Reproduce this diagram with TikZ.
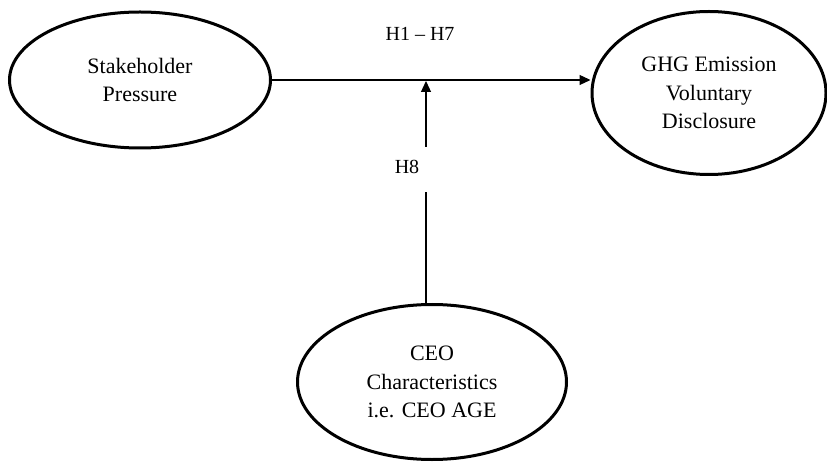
\documentclass[tikz,border=0pt]{standalone}
\usepackage{fontspec}
\setmainfont{Liberation Serif}
\usetikzlibrary{shapes.geometric,arrows.meta}
\tikzset{
  construct/.style={ellipse, draw=black, line width=3pt, inner sep=0pt, align=center,
    font=\fontsize{22}{28.5}\selectfont},
  link/.style={line width=1.2pt, -{Triangle[length=11pt,width=10pt]}},
  plain/.style={line width=1.2pt},
  hyp/.style={font=\fontsize{20}{24}\selectfont, inner sep=0pt}
}
\begin{document}
\begin{tikzpicture}[x=1pt,y=-1pt]
\useasboundingbox (0,0) rectangle (827,462);
\node[construct, minimum width=261pt, minimum height=136pt] (sp) at (140,80) {Stakeholder\\Pressure};
\node[construct, minimum width=234pt, minimum height=163pt] (ghg) at (709,93) {GHG Emission\\Voluntary\\Disclosure};
\node[construct, minimum width=269pt, minimum height=155pt] (ceo) at (432,382) {CEO\\Characteristics\\i.e. CEO AGE};
\node[hyp] (h17) at (420,34) {H1 -- H7};
\node[hyp] (h8) at (407,167) {H8};
\draw[link] (sp.east) -- (sp.east -| ghg.west);
\coordinate (m) at (426,81);
\coordinate (g1) at (426,147);
\coordinate (g2) at (426,192);
\draw[plain] (m |- ceo.north) -- (g2);
\draw[link] (g1) -- (m);
\end{tikzpicture}
\end{document}
